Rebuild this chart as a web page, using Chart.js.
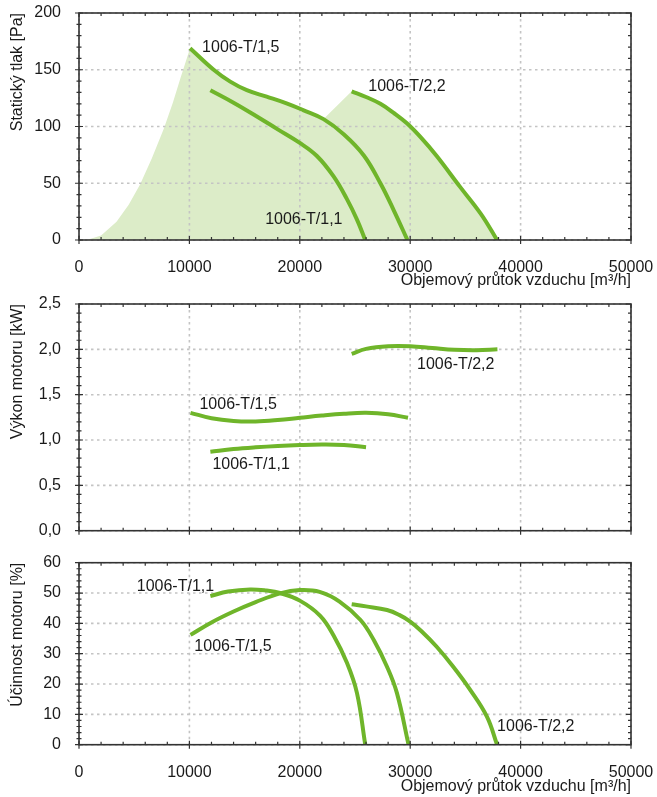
<!DOCTYPE html>
<html lang="cs">

<head>
    <meta charset="UTF-8" />
    <title>1006-T – charakteristiky</title>
    <script src="https://cdn.jsdelivr.net/npm/chart.js"></script>
    <style>
        body { margin: 0; background: #fff; }
        .box { position: absolute; left: 0; width: 657px; }
        canvas { display: block; }
    </style>
</head>

<body>
    <div class="box" style="top:0;height:290px"><canvas id="tlak" width="657" height="290"></canvas></div>
    <div class="box" style="top:290px;height:250px"><canvas id="vykon" width="657" height="250"></canvas></div>
    <div class="box" style="top:540px;height:257px"><canvas id="ucinnost" width="657" height="257"></canvas></div>

    <script>
        // osa prutoku [m3/h]
        const prutokTicks = [0, 10000, 20000, 30000, 40000, 50000];

        // staticky tlak [Pa]
        const tlakQ_15 = [10060, 12200, 13700, 15200, 17000, 18800, 20300, 22150, 24000, 25800, 27300, 28500, 29750];
        const tlak_15 = [169, 150, 139.5, 132, 126.3, 120.4, 114.5, 106.5, 93, 74.5, 50, 26.4, 0];
        const tlakQ_11 = [11900, 14000, 16000, 18000, 20000, 21550, 23060, 24270, 25180, 25930];
        const tlak_11 = [132, 121, 109.5, 97.5, 85.5, 74, 56, 36, 18, 0];
        const tlakQ_22 = [24700, 26000, 27300, 28500, 29700, 30900, 32400, 34500, 36400, 37870];
        const tlak_22 = [131, 126, 120, 112, 102.8, 91, 74, 47, 23, 0];
        // leva hranice pracovni oblasti (stoupa az k zacatku krivky T/1,5)
        const oblastQ = [700, 2000, 3400, 4500, 5530, 6600, 7680, 8500, 9200];
        const oblast = [0, 4, 16, 31, 49, 72, 98, 121, 143];
        const konecOblasti15 = 8; // krivka T/1,5 ohranicuje oblast do 22150 m3/h

        // vykon motoru [kW]
        const vykonQ_15 = [10100, 12000, 14000, 16000, 18000, 20000, 22000, 24000, 26000, 28000, 29800];
        const vykon_15 = [1.30, 1.24, 1.21, 1.205, 1.22, 1.245, 1.27, 1.29, 1.30, 1.285, 1.245];
        const vykonQ_11 = [11900, 14000, 16000, 18000, 20000, 22000, 24000, 26000];
        const vykon_11 = [0.87, 0.90, 0.92, 0.935, 0.945, 0.95, 0.945, 0.92];
        const vykonQ_22 = [24700, 26000, 28000, 30000, 32000, 34000, 36000, 37900];
        const vykon_22 = [1.95, 2.005, 2.035, 2.035, 2.015, 1.995, 1.99, 2.0];

        // ucinnost motoru [%]
        const ucinQ_11 = [11900, 13500, 15500, 17000, 18200, 20000, 21850, 23060, 24270, 25180, 25930];
        const ucin_11 = [49, 50.5, 51.2, 50.8, 50, 47.5, 42.5, 36, 27, 17, 0];
        const ucinQ_15 = [10100, 12000, 14000, 16000, 18200, 20000, 21800, 23600, 25500, 26700, 27900, 28800, 29850];
        const ucin_15 = [36.2, 40.3, 43.9, 47, 49.9, 51, 50.4, 47.2, 41.1, 34.5, 25.7, 17, 0];
        const ucinQ_22 = [24700, 26000, 27900, 29000, 30000, 31000, 32400, 33900, 35450, 36960, 37870];
        const ucin_22 = [46.3, 45.6, 44.4, 42.8, 40.6, 37.5, 32.3, 25.7, 18, 9.2, 0];

        const ZELENA = '#6fb52a';
        const PLOCHA = '#dcecc8';

        Chart.defaults.font.family = '"Liberation Sans", Arial, sans-serif';
        Chart.defaults.font.size = 16;
        Chart.defaults.color = '#1a1a1a';

        function body(qs, vals) {
            return qs.map((q, i) => ({ x: q, y: vals[i] }));
        }

        function krivka(qs, vals) {
            return {
                data: body(qs, vals),
                borderColor: ZELENA,
                borderWidth: 4,
                fill: false,
                pointRadius: 0,
                tension: 0.4
            };
        }

        function plocha(qs, vals) {
            return {
                data: body(qs, vals),
                borderColor: 'rgba(0,0,0,0)',
                borderWidth: 1,
                backgroundColor: PLOCHA,
                fill: 'origin',
                pointRadius: 0,
                tension: 0
            };
        }

        // mrizka nad plochou, ramecek, vedlejsi znacky a popisky krivek
        const ramecek = {
            id: 'ramecek',
            beforeDatasetsDraw(chart) {
                const { ctx, chartArea: a, scales: { x, y } } = chart;
                ctx.save();
                ctx.strokeStyle = '#c4c4c4';
                ctx.lineWidth = 1.6;
                ctx.setLineDash([2.5, 3.5]);
                ctx.beginPath();
                x.ticks.forEach(t => {
                    const p = x.getPixelForValue(t.value);
                    ctx.moveTo(p, a.top); ctx.lineTo(p, a.bottom);
                });
                y.ticks.forEach(t => {
                    const p = y.getPixelForValue(t.value);
                    ctx.moveTo(a.left, p); ctx.lineTo(a.right, p);
                });
                ctx.stroke();
                ctx.restore();
            },
            afterDraw(chart, args, opts) {
                const { ctx, chartArea: a, scales: { x, y } } = chart;
                ctx.save();
                ctx.strokeStyle = '#333';
                ctx.lineWidth = 1.2;
                ctx.beginPath();
                const nx = Math.round((x.max - x.min) / opts.xMinor);
                for (let i = 0; i <= nx; i++) {
                    const v = x.min + i * opts.xMinor;
                    const p = x.getPixelForValue(v);
                    const major = Math.abs(v / opts.xStep - Math.round(v / opts.xStep)) < 1e-6;
                    const d = major ? 4 : 3;
                    ctx.moveTo(p, a.bottom - d); ctx.lineTo(p, a.bottom + (major ? 4 : 0));
                    ctx.moveTo(p, a.top); ctx.lineTo(p, a.top + d);
                }
                const ny = Math.round((y.max - y.min) / opts.yMinor);
                for (let i = 0; i <= ny; i++) {
                    const v = y.min + i * opts.yMinor;
                    const p = y.getPixelForValue(v);
                    const major = Math.abs(v / opts.yStep - Math.round(v / opts.yStep)) < 1e-6;
                    const d = major ? 4 : 2.5;
                    ctx.moveTo(a.left - d, p); ctx.lineTo(a.left + d, p);
                    ctx.moveTo(a.right, p); ctx.lineTo(a.right - (major ? 5 : 3), p);
                }
                ctx.stroke();
                ctx.lineWidth = 1.6;
                ctx.strokeRect(a.left, a.top, a.width, a.height);

                ctx.fillStyle = '#1a1a1a';
                ctx.font = '16px "Liberation Sans", Arial, sans-serif';
                ctx.textBaseline = 'middle';
                ctx.textAlign = 'left';
                for (const [t, vx, vy] of opts.popisky) {
                    ctx.fillText(t, x.getPixelForValue(vx), y.getPixelForValue(vy));
                }
                ctx.restore();
            }
        };

        function graf(id, cfg) {
            const ctx = document.getElementById(id).getContext('2d');
            return new Chart(ctx, {
                type: 'line',
                data: { datasets: cfg.datasets },
                plugins: [ramecek],
                options: {
                    responsive: false,
                    animation: false,
                    layout: { padding: { top: cfg.top, right: 26, left: 0, bottom: 0 } },
                    plugins: {
                        legend: { display: false },
                        tooltip: { enabled: false },
                        filler: { drawTime: 'beforeDatasetsDraw' },
                        ramecek: {
                            xMinor: 2000, xStep: 10000,
                            yMinor: cfg.yMinor, yStep: cfg.yStep,
                            popisky: cfg.popisky
                        }
                    },
                    scales: {
                        x: {
                            type: 'linear',
                            min: prutokTicks[0],
                            max: prutokTicks[prutokTicks.length - 1],
                            afterFit: s => {
                                s.height = cfg.xHeight;
                                s.paddingLeft = 0; s.paddingRight = 0;
                            },
                            border: { display: false },
                            grid: { display: false },
                            ticks: {
                                display: cfg.xLabels,
                                stepSize: 10000,
                                padding: 10,
                                callback: v => String(v)
                            },
                            title: {
                                display: cfg.xLabels,
                                text: 'Objemový průtok vzduchu [m³/h]',
                                align: 'end',
                                padding: { top: 0, bottom: cfg.titlePad }
                            }
                        },
                        y: {
                            min: cfg.yMin,
                            max: cfg.yMax,
                            afterFit: s => {
                                s.width = 79;
                                s.paddingTop = 0; s.paddingBottom = 0;
                            },
                            border: { display: false },
                            grid: { display: false },
                            ticks: {
                                stepSize: cfg.yStep,
                                padding: 10,
                                callback: cfg.fmt
                            },
                            title: {
                                display: true,
                                text: cfg.yTitle,
                                align: 'end',
                                padding: { top: 8, bottom: 0 }
                            }
                        }
                    }
                }
            });
        }

        const tlakChart = graf('tlak', {
            top: 13, xHeight: 50, xLabels: true, titlePad: 0,
            yMin: 0, yMax: 200, yStep: 50, yMinor: 10,
            yTitle: 'Statický tlak [Pa]',
            fmt: v => String(v),
            popisky: [['1006-T/1,5', 11150, 169.2], ['1006-T/2,2', 26200, 135.2], ['1006-T/1,1', 16860, 17.6]],
            datasets: [
                krivka(tlakQ_15, tlak_15),
                krivka(tlakQ_11, tlak_11),
                krivka(tlakQ_22, tlak_22),
                plocha(oblastQ.concat(tlakQ_15.slice(0, konecOblasti15), tlakQ_22),
                    oblast.concat(tlak_15.slice(0, konecOblasti15), tlak_22))
            ]
        });

        const vykonChart = graf('vykon', {
            top: 14, xHeight: 9.3, xLabels: false, titlePad: 0,
            yMin: 0, yMax: 2.5, yStep: 0.5, yMinor: 0.1,
            yTitle: 'Výkon motoru [kW]',
            fmt: v => v.toFixed(1).replace('.', ','),
            popisky: [['1006-T/1,5', 10910, 1.386], ['1006-T/1,1', 12085, 0.725], ['1006-T/2,2', 30620, 1.827]],
            datasets: [
                krivka(vykonQ_15, vykon_15),
                krivka(vykonQ_11, vykon_11),
                krivka(vykonQ_22, vykon_22)
            ]
        });

        const ucinChart = graf('ucinnost', {
            top: 22.7, xHeight: 52.3, xLabels: true, titlePad: 1,
            yMin: 0, yMax: 60, yStep: 10, yMinor: 2,
            yTitle: 'Účinnost motoru [%]',
            fmt: v => String(v),
            popisky: [['1006-T/1,1', 5230, 52.2], ['1006-T/1,5', 10450, 32.5], ['1006-T/2,2', 37870, 6.0]],
            datasets: [
                krivka(ucinQ_11, ucin_11),
                krivka(ucinQ_15, ucin_15),
                krivka(ucinQ_22, ucin_22)
            ]
        });
    </script>
</body>

</html>
